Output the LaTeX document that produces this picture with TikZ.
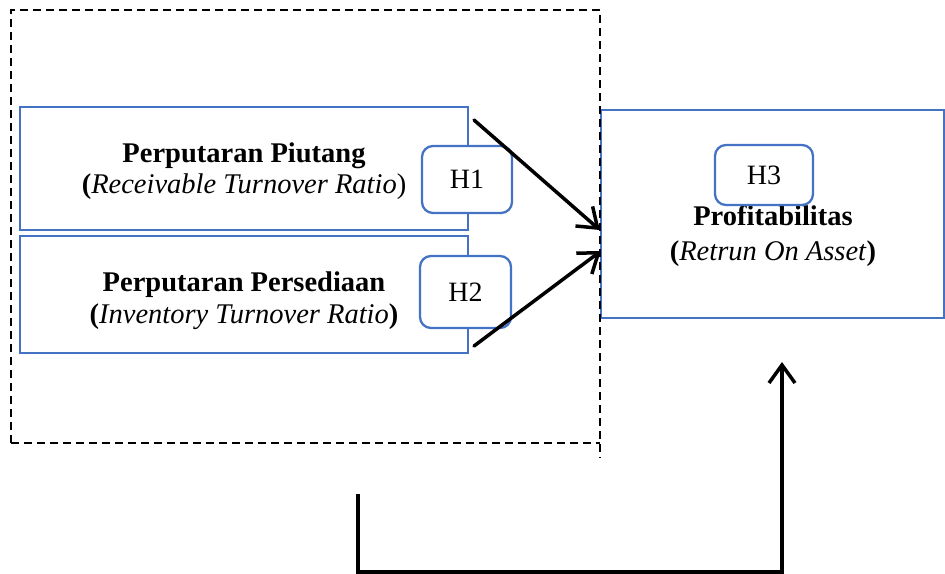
\documentclass[tikz,border=0pt]{standalone}
\usepackage{fontspec}
\setmainfont{Liberation Serif}
\usetikzlibrary{arrows.meta,calc}
\definecolor{boxblue}{HTML}{4472C4}
\tikzset{
  varbox/.style={draw=boxblue, line width=2.3pt, rectangle, inner sep=0pt},
  hypbox/.style={draw=boxblue, line width=2.3pt, fill=white, rounded corners=11pt, inner sep=0pt,
    font=\fontsize{28}{31}\selectfont},
  txt/.style={inner sep=0pt, align=center, font=\fontsize{28.5}{31}\selectfont},
  framebox/.style={line width=1.6pt, dash pattern=on 8pt off 5pt},
  arr/.style={line width=3.5pt, line cap=round, -{Straight Barb[length=18pt,width=26pt,line width=3.5pt]}},
}
\begin{document}
\begin{tikzpicture}[x=1pt,y=-1pt]
\useasboundingbox (0,0) rectangle (945,573);
% variable boxes
\node[varbox, minimum width=448pt, minimum height=123pt] (b1) at (244,168.5) {};
\node[varbox, minimum width=448pt, minimum height=117pt] (b2) at (244,294.5) {};
\node[varbox, minimum width=343pt, minimum height=208pt] (b3) at (772.5,214) {};
\node[txt] (t1) at (244,171.5) {\textbf{Perputaran Piutang}\\\textbf{(}\textit{Receivable Turnover Ratio})};
\node[txt, font=\fontsize{28.5}{32}\selectfont] (t2) at (244,301) {\textbf{Perputaran Persediaan}\\\textbf{(}\textit{Inventory Turnover Ratio}\textbf{)}};
\node[txt, font=\fontsize{28.5}{35}\selectfont] (t3) at (773,236) {\textbf{Profitabilitas}\\\textbf{(}\textit{Retrun On Asset}\textbf{)}};
% hypothesis labels
\node[hypbox, minimum width=90pt, minimum height=67pt] (h1) at (467,179.5) {H1};
\node[hypbox, minimum width=91pt, minimum height=72pt] (h2) at (465.5,292) {H2};
\node[hypbox, minimum width=98pt, minimum height=60pt] (h3) at (764,175) {H3};
% dashed frame
\coordinate (fa) at (11,443);
\coordinate (fb) at (11,10);
\coordinate (fc) at (600,10);
\coordinate (fd) at (600,458);
\coordinate (fe) at (600,443);
\draw[framebox] (fa) -- (fb) -- (fc) -- (fd);
\draw[framebox] (fa) -- (fe);
% arrows
\coordinate (a1s) at (474,120);
\coordinate (a1e) at ($(b3.west)+(0,16)$);
\coordinate (a2s) at (474,346);
\coordinate (a2e) at ($(b3.west)+(1,37)$);
\draw[arr] (a1s) -- (a1e);
\draw[arr] (a2s) -- (a2e);
\coordinate (ls) at (358,494);
\coordinate (lb) at (358,572);
\coordinate (le) at (782,362);
\draw[arr, line cap=butt] (ls) -- (lb) -| (le);
\end{tikzpicture}
\end{document}
